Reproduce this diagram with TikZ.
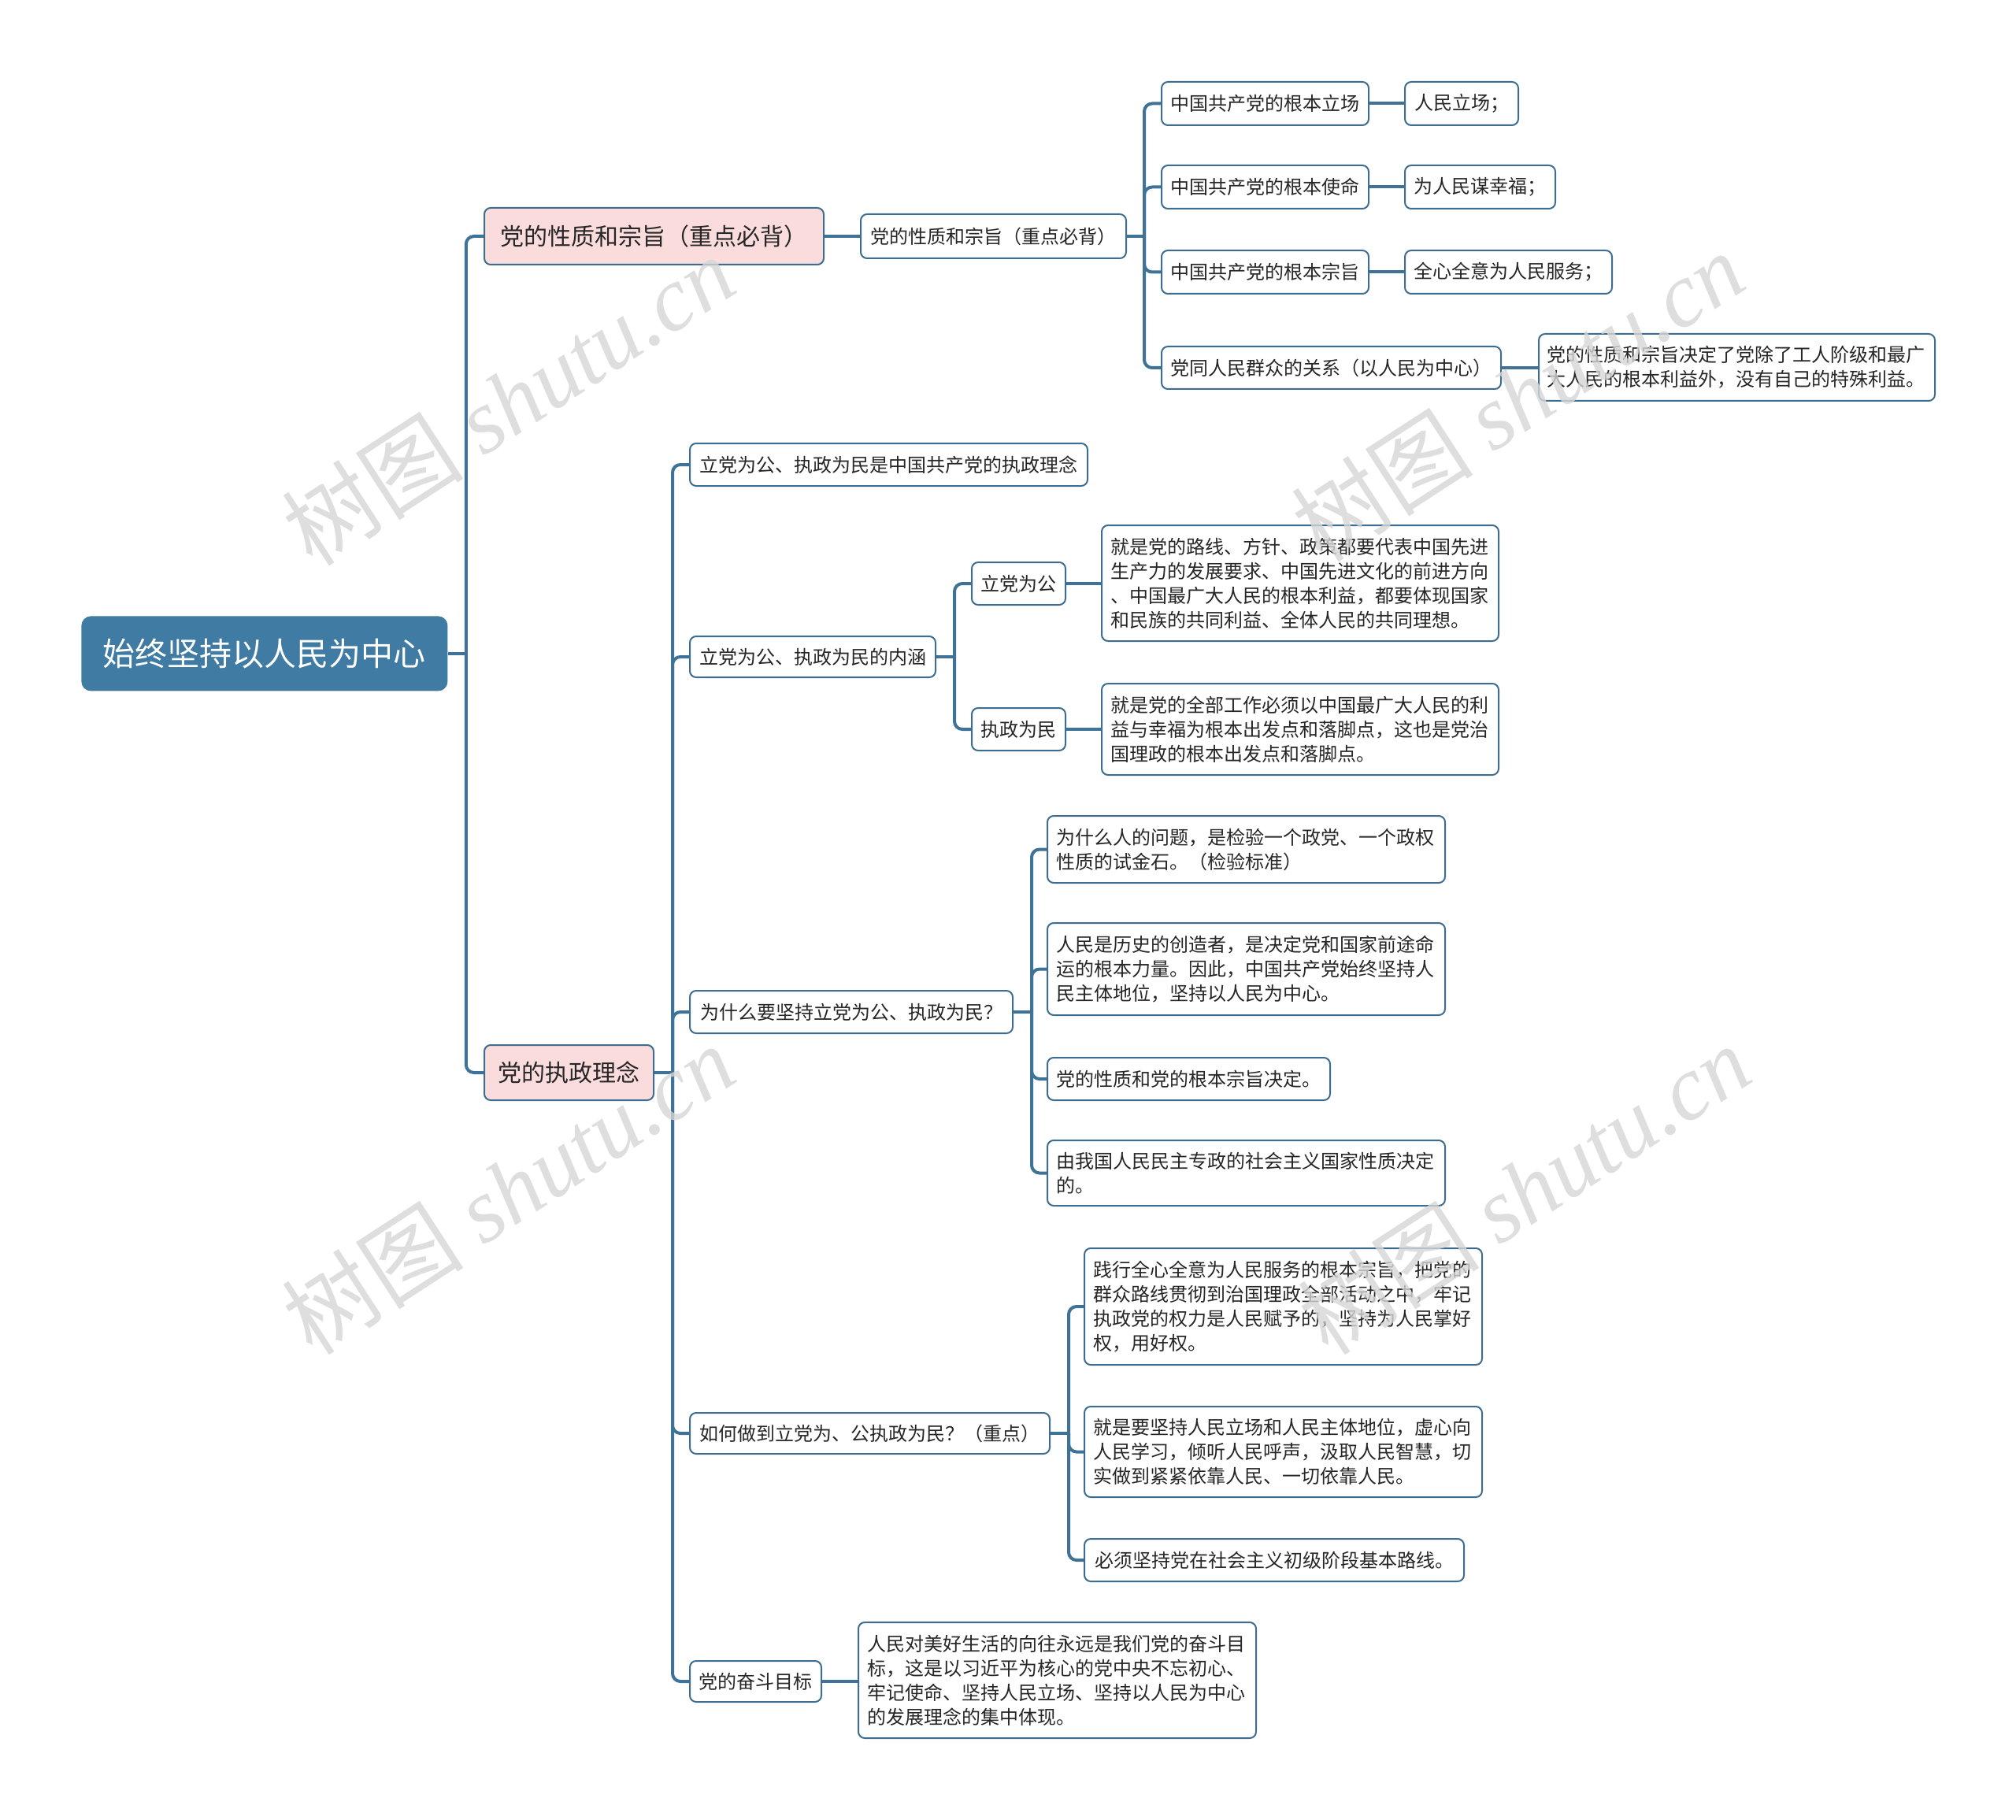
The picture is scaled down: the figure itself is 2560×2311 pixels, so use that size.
\documentclass[tikz,border=0pt]{standalone}
\usepackage{fontspec}
\setmainfont{Noto Sans CJK SC}
\newfontfamily\wmserif{Liberation Serif}
\usetikzlibrary{calc}
\definecolor{rootblue}{HTML}{3F7BA3}
\definecolor{edgeblue}{HTML}{3D6E92}
\definecolor{linkblue}{HTML}{3E7397}
\definecolor{pinkfill}{HTML}{FBDCDC}
\definecolor{wmgray}{HTML}{D6D6D6}
\tikzset{
 box/.style={draw=edgeblue, line width=1pt, rounded corners=4pt, fill=white, inner sep=0pt, anchor=north west, font=\fontsize{12}{15.5}\selectfont, text=black!85},
 multi/.style={box, align=left, text width=#1},
 lvone/.style={box, fill=pinkfill, font=\fontsize{15}{18}\selectfont},
 rootbox/.style={draw=none, fill=rootblue, rounded corners=6pt, inner sep=0pt, anchor=north west, text=white, font=\fontsize{20.5}{24}\selectfont},
 conn/.style={draw=linkblue, line width=2pt, rounded corners=5pt},
 wm/.style={rotate=33, text=wmgray, text opacity=0.8, font=\fontsize{58}{64}\selectfont},
}
\begin{document}
\begin{tikzpicture}[x=0.5pt, y=-0.5pt]
\useasboundingbox (0,0) rectangle (2560,2311);
% root
\node[rootbox, minimum width=232.5pt, minimum height=47.5pt] (root) at (103,782) {始终坚持以人民为中心};
% level 1
\node[lvone, minimum width=215.5pt, minimum height=36pt] (A) at (614,263) {党的性质和宗旨（重点必背）};
\node[lvone, minimum width=107.5pt, minimum height=35pt] (B) at (614,1326) {党的执政理念};
% branch A
\node[box, minimum width=168.5pt, minimum height=28pt] (A2) at (1092,271) {党的性质和宗旨（重点必背）};
\node[box, minimum width=131.5pt, minimum height=27.5pt] (R1) at (1474,103) {中国共产党的根本立场};
\node[box, minimum width=72pt, minimum height=27.5pt] (L1) at (1783,103) {人民立场；};
\node[box, minimum width=131.5pt, minimum height=27.5pt] (R2) at (1474,209) {中国共产党的根本使命};
\node[box, minimum width=95.5pt, minimum height=27.5pt] (L2) at (1783,209) {为人民谋幸福；};
\node[box, minimum width=131.5pt, minimum height=27.5pt] (R3) at (1474,317) {中国共产党的根本宗旨};
\node[box, minimum width=131.5pt, minimum height=27.5pt] (L3) at (1783,317) {全心全意为人民服务；};
\node[box, minimum width=215.5pt, minimum height=27pt] (R4) at (1474,439) {党同人民群众的关系（以人民为中心）};
\node[multi=241pt, minimum width=251.5pt, minimum height=42.5pt] (L4) at (1953,423) {党的性质和宗旨决定了党除了工人阶级和最广\\大人民的根本利益外，没有自己的特殊利益。};
% branch B
\node[box, minimum width=252.5pt, minimum height=27pt] (B1) at (875,562) {立党为公、执政为民是中国共产党的执政理念};
\node[box, minimum width=156pt, minimum height=26pt] (B2) at (875,807) {立党为公、执政为民的内涵};
\node[box, minimum width=59.5pt, minimum height=27pt] (P1) at (1233,713) {立党为公};
\node[box, minimum width=59.5pt, minimum height=27pt] (P2) at (1233,898) {执政为民};
\node[multi=241pt, minimum width=252pt, minimum height=73.5pt] (D1) at (1398,666) {就是党的路线、方针、政策都要代表中国先进\\生产力的发展要求、中国先进文化的前进方向\\、中国最广大人民的根本利益，都要体现国家\\和民族的共同利益、全体人民的共同理想。};
\node[multi=241pt, minimum width=252pt, minimum height=58pt] (D2) at (1398,867) {就是党的全部工作必须以中国最广大人民的利\\益与幸福为根本出发点和落脚点，这也是党治\\国理政的根本出发点和落脚点。};
\node[box, minimum width=205pt, minimum height=27pt] (B3) at (875,1257) {为什么要坚持立党为公、执政为民？};
\node[multi=241pt, minimum width=252.5pt, minimum height=42.5pt] (W1) at (1329,1035) {为什么人的问题，是检验一个政党、一个政权\\性质的试金石。（检验标准）};
\node[multi=241pt, minimum width=252.5pt, minimum height=58.5pt] (W2) at (1329,1171) {人民是历史的创造者，是决定党和国家前途命\\运的根本力量。因此，中国共产党始终坚持人\\民主体地位，坚持以人民为中心。};
\node[box, minimum width=179.5pt, minimum height=27pt] (W3) at (1329,1342) {党的性质和党的根本宗旨决定。};
\node[multi=241pt, minimum width=252.5pt, minimum height=41.5pt] (W4) at (1329,1447) {由我国人民民主专政的社会主义国家性质决定\\的。};
\node[box, minimum width=228.5pt, minimum height=26pt] (B4) at (875,1793) {如何做到立党为、公执政为民？（重点）};
\node[multi=241pt, minimum width=252.5pt, minimum height=74pt] (H1) at (1376,1584) {践行全心全意为人民服务的根本宗旨，把党的\\群众路线贯彻到治国理政全部活动之中，牢记\\执政党的权力是人民赋予的，坚持为人民掌好\\权，用好权。};
\node[multi=241pt, minimum width=252.5pt, minimum height=57.5pt] (H2) at (1376,1785) {就是要坚持人民立场和人民主体地位，虚心向\\人民学习，倾听人民呼声，汲取人民智慧，切\\实做到紧紧依靠人民、一切依靠人民。};
\node[box, minimum width=241pt, minimum height=27pt] (H3) at (1376,1953) {必须坚持党在社会主义初级阶段基本路线。};
\node[box, minimum width=83.5pt, minimum height=26pt] (B5) at (875,2108) {党的奋斗目标};
\node[multi=241pt, minimum width=252.5pt, minimum height=73.5pt] (G1) at (1089,2059) {人民对美好生活的向往永远是我们党的奋斗目\\标，这是以习近平为核心的党中央不忘初心、\\牢记使命、坚持人民立场、坚持以人民为中心\\的发展理念的集中体现。};
% junctions
\coordinate (jr) at ($(root.east)+(23,0)$);
\coordinate (ja) at ($(A2.east)+(22,0)$);
\coordinate (jb) at ($(B.east)+(23,0)$);
\coordinate (jp) at ($(B2.east)+(23,0)$);
\coordinate (jw) at ($(B3.east)+(23,0)$);
\coordinate (jh) at ($(B4.east)+(23,0)$);
% connectors
\draw[conn] (root.east) -- (jr);
\draw[conn] (jr) |- (A.west);
\draw[conn] (jr) |- (B.west);
\draw[conn] (A.east) -- (A2.west);
\draw[conn] (A2.east) -- (ja);
\foreach \n in {R1,R2,R3,R4} {\draw[conn] (ja) |- (\n.west);}
\draw[conn] (R1.east) -- (R1.east -| L1.west);
\draw[conn] (R2.east) -- (R2.east -| L2.west);
\draw[conn] (R3.east) -- (R3.east -| L3.west);
\draw[conn] (R4.east) -- (R4.east -| L4.west);
\draw[conn] (B.east) -- (jb);
\foreach \n in {B1,B2,B3,B4,B5} {\draw[conn] (jb) |- (\n.west);}
\draw[conn] (B2.east) -- (jp);
\foreach \n in {P1,P2} {\draw[conn] (jp) |- (\n.west);}
\draw[conn] (P1.east) -- (P1.east -| D1.west);
\draw[conn] (P2.east) -- (P2.east -| D2.west);
\draw[conn] (B3.east) -- (jw);
\foreach \n in {W1,W2,W3,W4} {\draw[conn] (jw) |- (\n.west);}
\draw[conn] (B4.east) -- (jh);
\foreach \n in {H1,H2,H3} {\draw[conn] (jh) |- (\n.west);}
\draw[conn] (B5.east) -- (B5.east -| G1.west);
% watermarks
\node[wm] (wm1) at (645,508) {树图 {\wmserif\itshape shutu.cn}};
\node[wm] (wm2) at (645,1510) {树图 {\wmserif\itshape shutu.cn}};
\node[wm] (wm3) at (1927,503) {树图 {\wmserif\itshape shutu.cn}};
\node[wm] (wm4) at (1935,1510) {树图 {\wmserif\itshape shutu.cn}};
\end{tikzpicture}
\end{document}
